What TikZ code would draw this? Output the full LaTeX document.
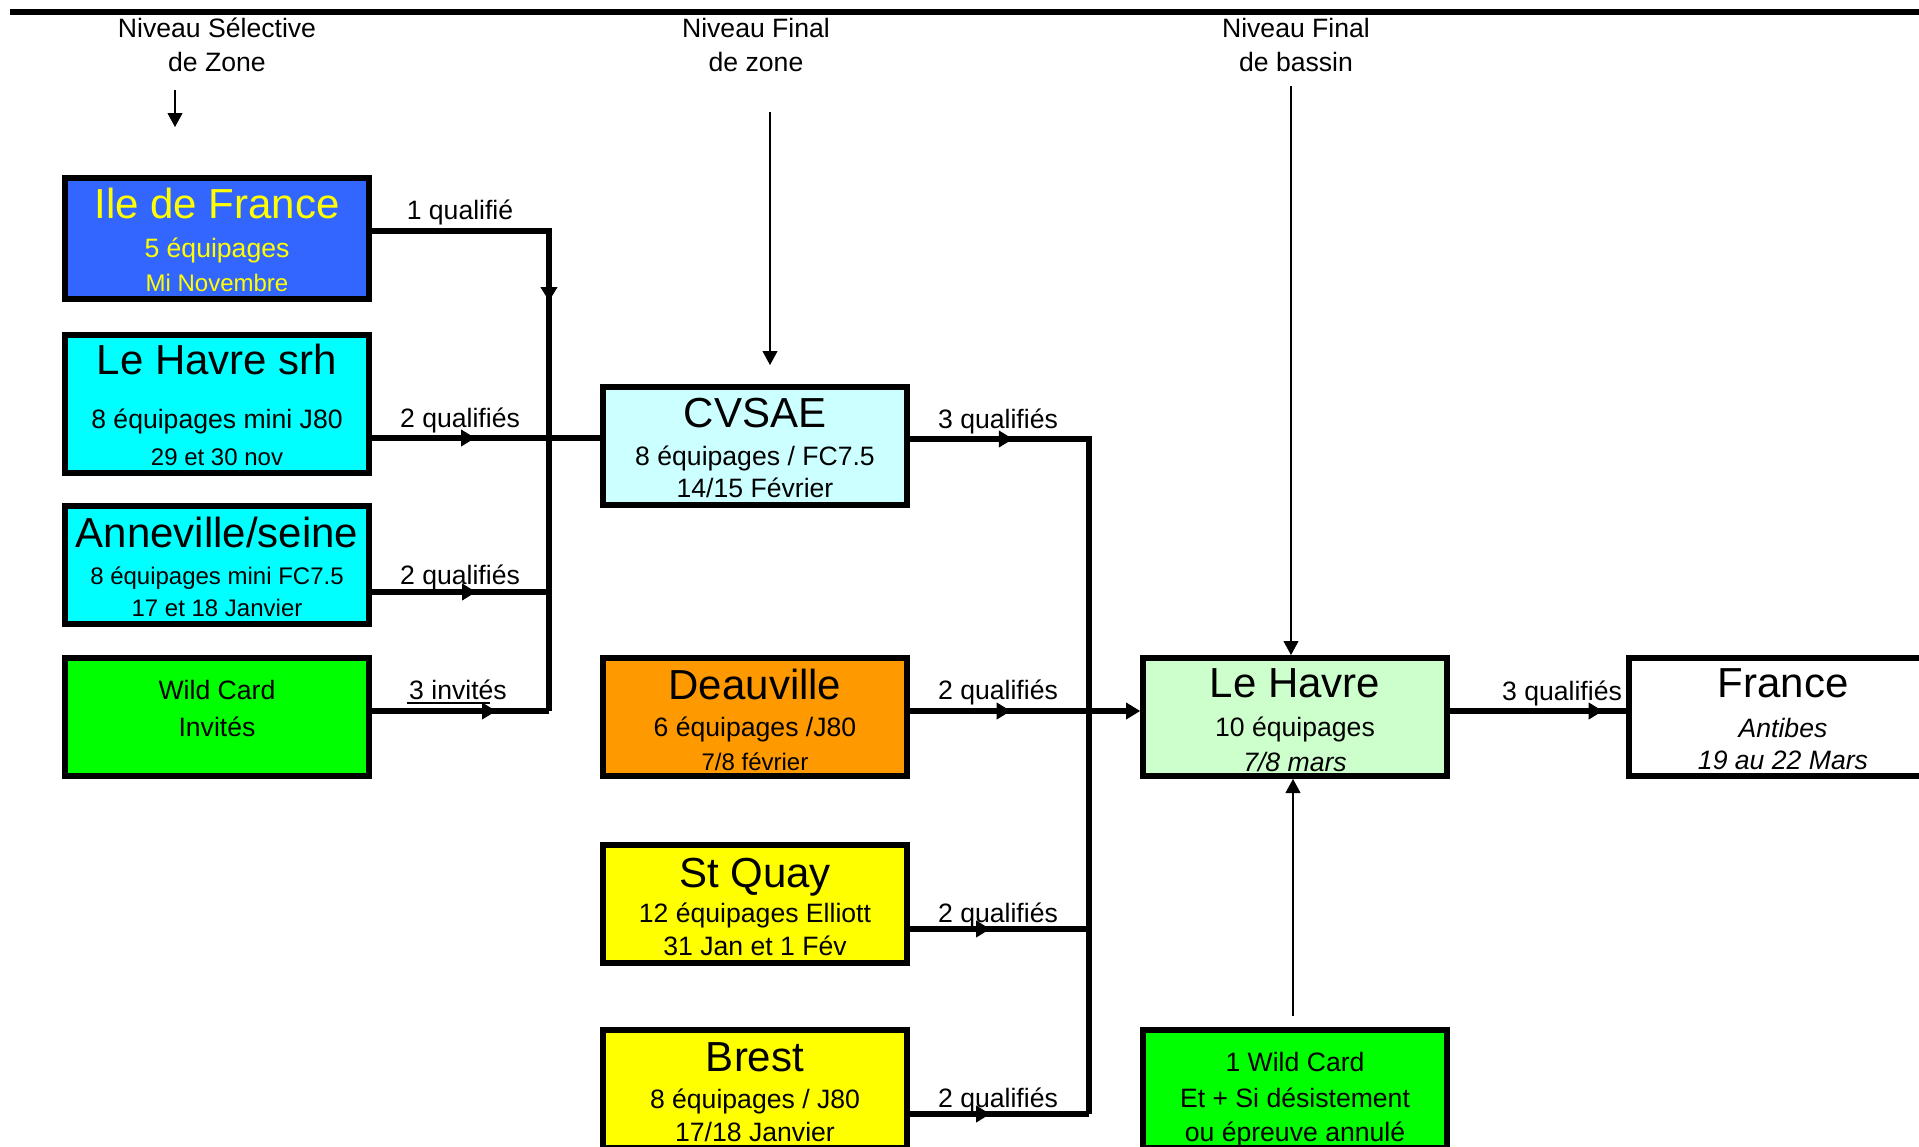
\documentclass[tikz,border=0pt]{standalone}
\usepackage{fontspec}
\setmainfont{Liberation Sans}
\usetikzlibrary{arrows.meta,decorations.markings}

\definecolor{idfblue}{HTML}{3366FF}
\definecolor{idfyellow}{HTML}{FFFF00}
\definecolor{cyanbox}{HTML}{00FFFF}
\definecolor{greenbox}{HTML}{00FF00}
\definecolor{lightcyan}{HTML}{CCFFFF}
\definecolor{orangebox}{HTML}{FF9900}
\definecolor{yellowbox}{HTML}{FFFF00}
\definecolor{lightgreen}{HTML}{CCFFCC}

\begin{document}
\begin{tikzpicture}[x=0.5pt,y=-0.5pt,
    cadre/.style={draw,line width=3pt,minimum width=152pt,minimum height=59pt,inner sep=0pt},
    conn/.style={line width=2.8pt},
    arr/.style={postaction={decorate,decoration={markings,mark=at position #1 with {\arrow{Triangle[length=7pt,width=8.5pt,line width=0.4pt]}}}}},
    thinarr/.style={line width=0.9pt,-{Triangle[length=7pt,width=7.5pt,line width=0.4pt]}},
    ttl/.style={font=\fontsize{21}{25}\selectfont,inner sep=0pt,text height=14.7pt,text depth=0pt},
    txt/.style={font=\fontsize{13.3}{16}\selectfont,inner sep=0pt,text height=9.3pt,text depth=0pt},
    txs/.style={font=\fontsize{12}{14}\selectfont,inner sep=0pt,text height=8.4pt,text depth=0pt}]
    \path[use as bounding box,clip] (0,0) rectangle (1919,1147);

    \draw[line width=2.85pt] (10,12) -- (1925,12);

    \node[txt] (hsel1) at (217,28) {Niveau Sélective};
    \node[txt] (hsel2) at (217,62) {de Zone};
    \node[txt] (hzon1) at (756,28) {Niveau Final};
    \node[txt] (hzon2) at (756,62) {de zone};
    \node[txt] (hbas1) at (1296,28) {Niveau Final};
    \node[txt] (hbas2) at (1296,62) {de bassin};

    \node[cadre,fill=idfblue,minimum height=60.5pt] (idf) at (217,238) {};
    \node[cadre,fill=cyanbox,minimum height=69pt] (lhs) at (217,404) {};
    \node[cadre,fill=cyanbox] (ann) at (217,565) {};
    \node[cadre,fill=greenbox] (wc) at (217,717) {};
    \node[cadre,fill=lightcyan] (cvsae) at (755,446) {};
    \node[cadre,fill=orangebox] (deau) at (755,717) {};
    \node[cadre,fill=yellowbox] (sq) at (755,904) {};
    \node[cadre,fill=yellowbox] (brest) at (755,1089) {};
    \node[cadre,fill=lightgreen] (lh) at (1295,717) {};
    \node[cadre,fill=white] (fr) at (1781,717) {};
    \node[cadre,fill=greenbox] (wc2) at (1295,1089) {};

    \node[ttl,text=idfyellow] (idf1) at (217,204) {Ile de France};
    \node[txt,text=idfyellow] (idf2) at (217,248) {5 équipages};
    \node[txs,text=idfyellow] (idf3) at (217,283) {Mi Novembre};
    \node[ttl] (lhs1) at (217,360) {Le Havre srh};
    \node[txt] (lhs2) at (217,419) {8 équipages mini J80};
    \node[txs] (lhs3) at (217,457) {29 et 30 nov};
    \node[ttl] (ann1) at (217,533) {Anneville/seine};
    \node[txs] (ann2) at (217,576) {8 équipages mini FC7.5};
    \node[txs] (ann3) at (217,608) {17 et 18 Janvier};
    \node[txt] (wc1) at (217,690) {Wild Card};
    \node[txt] (wcb) at (217,727) {Invités};

    \node[ttl] (cvsae1) at (755,413) {CVSAE};
    \node[txt] (cvsae2) at (755,456) {8 équipages / FC7.5};
    \node[txt] (cvsae3) at (755,488) {14/15 Février};
    \node[ttl] (deau1) at (755,685) {Deauville};
    \node[txt] (deau2) at (755,727) {6 équipages /J80};
    \node[txs] (deau3) at (755,762) {7/8 février};
    \node[ttl] (sq1) at (755,873) {St Quay};
    \node[txt] (sq2) at (755,913) {12 équipages Elliott};
    \node[txt] (sq3) at (755,946) {31 Jan et 1 Fév};
    \node[ttl] (brest1) at (755,1057) {Brest};
    \node[txt] (brest2) at (755,1099) {8 équipages / J80};
    \node[txt] (brest3) at (755,1132) {17/18 Janvier};

    \node[ttl] (lh1) at (1295,683) {Le Havre};
    \node[txt] (lh2) at (1295,727) {10 équipages};
    \node[txt,font=\fontsize{13.3}{16}\selectfont\itshape] (lh3) at (1295,762) {7/8 mars};
    \node[ttl] (fr1) at (1783,683) {France};
    \node[txt,font=\fontsize{13.3}{16}\selectfont\itshape] (fr2) at (1783,728) {Antibes};
    \node[txt,font=\fontsize{13.3}{16}\selectfont\itshape] (fr3) at (1783,760) {19 au 22 Mars};
    \node[txt] (wc2a) at (1295,1062) {1 Wild Card};
    \node[txt] (wc2b) at (1295,1098) {Et + Si désistement};
    \node[txt] (wc2c) at (1295,1132) {ou épreuve annulé};

    \node[txt] (q1) at (460,210) {1 qualifié};
    \node[txt] (q2) at (460,418) {2 qualifiés};
    \node[txt] (q3) at (460,575) {2 qualifiés};
    \node[txt] (q4) at (458,690) {3 invités};
    \node[txt] (q5) at (998,419) {3 qualifiés};
    \node[txt] (q6) at (998,690) {2 qualifiés};
    \node[txt] (q7) at (998,913) {2 qualifiés};
    \node[txt] (q8) at (998,1098) {2 qualifiés};
    \node[txt] (q9) at (1562,691) {3 qualifiés};

    \coordinate (c1) at (549,231);
    \coordinate (c2) at (549,438);
    \coordinate (c3) at (549,592);
    \coordinate (c4) at (549,711);
    \coordinate (d1) at (1089,439);
    \coordinate (d2) at (1089,711);
    \coordinate (d3) at (1089,929);
    \coordinate (d4) at (1089,1114);

    \draw[conn,arr=123.5pt] (idf.east |- c1) -- (c1) -- (c4);
    \draw[conn,arr=51.5pt] (lhs.east |- c2) -- (cvsae.west |- c2);
    \draw[conn,arr=52pt] (ann.east |- c3) -- (c3);
    \draw[conn,arr=62pt] (wc.east |- c4) -- (c4);
    \coordinate (u1) at (407,703);
    \coordinate (u2) at (490,703);
    \draw[line width=0.9pt] (u1) -- (u2);

    \draw[conn,arr=51.4pt] (cvsae.east |- d1) -- (d1) -- (d4);
    \draw[conn,arr=50.3pt,-{Triangle[length=7pt,width=8.5pt,line width=0.4pt]}] (deau.east |- d2) -- (lh.west |- d2);
    \draw[conn,arr=40pt] (sq.east |- d3) -- (d3);
    \draw[conn,arr=40pt] (brest.east |- d4) -- (d4);
    \draw[conn,arr=76.3pt] (lh.east |- d2) -- (fr.west |- d2);

    \coordinate (s1) at (175,90);
    \coordinate (s2) at (175,127);
    \coordinate (z1) at (770,112);
    \coordinate (z2) at (770,365);
    \coordinate (b1) at (1291,86);
    \coordinate (w1) at (1293,1016);
    \draw[thinarr] (s1) -- (s2);
    \draw[thinarr] (z1) -- (z2);
    \draw[thinarr] (b1) -- (b1 |- lh.north);
    \draw[thinarr] (w1) -- (w1 |- lh.south);
\end{tikzpicture}
\end{document}
